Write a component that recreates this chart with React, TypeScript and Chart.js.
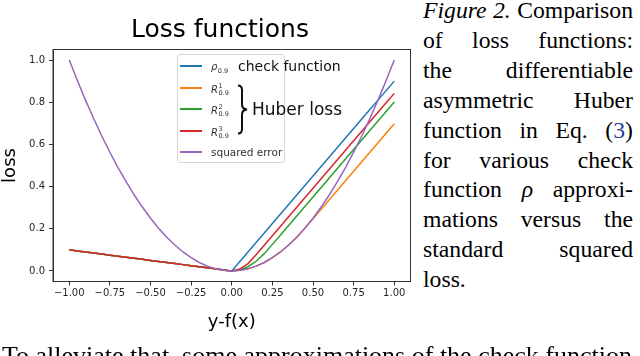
import React, { useEffect, useRef } from "react";
import { Chart, registerables } from "chart.js";

Chart.register(...registerables);

// ---- data ----
const xs = [
  -1.0, -0.95, -0.9, -0.85, -0.8, -0.75, -0.7, -0.65, -0.6, -0.55, -0.5, -0.45, -0.4, -0.35, -0.3, -0.25, -0.2, -0.15, -0.1, -0.05,
  0.0, 0.05, 0.1, 0.15, 0.2, 0.25, 0.3, 0.35, 0.4, 0.45, 0.5, 0.55, 0.6, 0.65, 0.7, 0.75, 0.8, 0.85, 0.9, 0.95, 1.0,
];
const checkFunction = [
  0.1, 0.095, 0.09, 0.085, 0.08, 0.075, 0.07, 0.065, 0.06, 0.055, 0.05, 0.045, 0.04, 0.035, 0.03, 0.025, 0.02, 0.015, 0.01, 0.005,
  0.0, 0.045, 0.09, 0.135, 0.18, 0.225, 0.27, 0.315, 0.36, 0.405, 0.45, 0.495, 0.54, 0.585, 0.63, 0.675, 0.72, 0.765, 0.81, 0.855, 0.9,
];
const huberR1 = [
  0.1, 0.095, 0.09, 0.085, 0.08, 0.075, 0.07, 0.065, 0.06, 0.055, 0.05, 0.045, 0.04, 0.035, 0.03, 0.025, 0.02, 0.015, 0.009, 0.003,
  0.0, 0.003, 0.01, 0.023, 0.04, 0.063, 0.09, 0.123, 0.16, 0.203, 0.248, 0.293, 0.338, 0.383, 0.428, 0.473, 0.518, 0.563, 0.608, 0.653, 0.698,
];
const huberR2 = [
  0.1, 0.095, 0.09, 0.085, 0.08, 0.075, 0.07, 0.065, 0.06, 0.055, 0.05, 0.045, 0.04, 0.035, 0.03, 0.025, 0.02, 0.015, 0.01, 0.004,
  0.0, 0.005, 0.02, 0.046, 0.082, 0.126, 0.171, 0.216, 0.261, 0.306, 0.351, 0.396, 0.441, 0.486, 0.531, 0.576, 0.621, 0.666, 0.711, 0.756, 0.801,
];
const huberR3 = [
  0.1, 0.095, 0.09, 0.085, 0.08, 0.075, 0.07, 0.065, 0.06, 0.055, 0.05, 0.045, 0.04, 0.035, 0.03, 0.025, 0.02, 0.015, 0.01, 0.005,
  0.0, 0.009, 0.035, 0.077, 0.122, 0.167, 0.212, 0.257, 0.302, 0.347, 0.392, 0.437, 0.482, 0.527, 0.572, 0.617, 0.662, 0.707, 0.752, 0.797, 0.842,
];
const squaredError = [
  1.0, 0.903, 0.81, 0.723, 0.64, 0.563, 0.49, 0.423, 0.36, 0.303, 0.25, 0.203, 0.16, 0.123, 0.09, 0.063, 0.04, 0.023, 0.01, 0.003,
  0.0, 0.003, 0.01, 0.023, 0.04, 0.063, 0.09, 0.123, 0.16, 0.203, 0.25, 0.303, 0.36, 0.423, 0.49, 0.563, 0.64, 0.723, 0.81, 0.903, 1.0,
];
const xTicks = [-1.0, -0.75, -0.5, -0.25, 0.0, 0.25, 0.5, 0.75, 1.0];
const yTicks = [0.0, 0.2, 0.4, 0.6, 0.8, 1.0];
const chartTitle = "Loss functions";
const xAxisLabel = "y-f(x)";
const yAxisLabel = "loss";

const BLUE = "#1f77b4";
const ORANGE = "#ff7f0e";
const GREEN = "#2ca02c";
const RED = "#d62728";
const PURPLE = "#9467bd";

const SANS = "'DejaVu Sans', sans-serif";
const SERIF = "'Liberation Serif', 'Times New Roman', serif";

const toPoints = (ys: number[]) => xs.map((x, i) => ({ x, y: ys[i] }));

const framePlugin = {
  id: "frameAndTitle",
  afterDraw(chart: any) {
    const { ctx, chartArea: a } = chart;
    ctx.save();
    ctx.strokeStyle = "#333";
    ctx.lineWidth = 1;
    ctx.strokeRect(a.left, a.top, a.right - a.left, a.bottom - a.top);
    ctx.fillStyle = "#000";
    ctx.font = `25px ${SANS}`;
    ctx.textAlign = "center";
    ctx.textBaseline = "middle";
    ctx.fillText(chartTitle, 220, 30);
    ctx.restore();
  },
};

function LossChart() {
  const ref = useRef<HTMLCanvasElement | null>(null);
  useEffect(() => {
    if (!ref.current) return;
    const fmtX = (v: number) => (v < 0 ? "\u2212" + Math.abs(v).toFixed(2) : v.toFixed(2));
    const chart = new Chart(ref.current, {
      type: "line",
      data: {
        datasets: [
          { label: "rho_0.9", data: toPoints(checkFunction), borderColor: BLUE, order: 4 },
          { label: "R1_0.9", data: toPoints(huberR1), borderColor: ORANGE, order: 3 },
          { label: "R2_0.9", data: toPoints(huberR2), borderColor: GREEN, order: 2 },
          { label: "R3_0.9", data: toPoints(huberR3), borderColor: RED, order: 1 },
          { label: "squared error", data: toPoints(squaredError), borderColor: PURPLE, order: 0 },
        ],
      },
      options: {
        animation: false,
        responsive: false,
        maintainAspectRatio: false,
        layout: { padding: { top: 49.5, left: 0, right: 9.5, bottom: 0 } },
        elements: {
          point: { radius: 0, hoverRadius: 0 },
          line: { borderWidth: 1.5, tension: 0, fill: false },
        },
        plugins: {
          legend: { display: false },
          tooltip: { enabled: false },
          title: { display: false },
        },
        scales: {
          x: {
            type: "linear",
            min: -1.1,
            max: 1.1,
            afterBuildTicks: (ax: any) => {
              ax.ticks = xTicks.map((v) => ({ value: v }));
            },
            afterFit: (ax: any) => {
              ax.height = 74.5;
            },
            ticks: {
              callback: (v: any) => fmtX(Number(v)),
              font: { family: SANS, size: 10 },
              color: "#262626",
              padding: 2,
              maxRotation: 0,
              autoSkip: false,
            },
            grid: { drawOnChartArea: false, drawTicks: true, tickLength: 4, color: "#333" },
            border: { display: true, color: "#333" },
            title: {
              display: true,
              text: xAxisLabel,
              font: { family: SANS, size: 18 },
              color: "#000",
              padding: { top: 0, bottom: 23 },
            },
          },
          y: {
            type: "linear",
            min: -0.05,
            max: 1.05,
            afterBuildTicks: (ax: any) => {
              ax.ticks = yTicks.map((v) => ({ value: v }));
            },
            afterFit: (ax: any) => {
              ax.width = 53;
            },
            ticks: {
              callback: (v: any) => Number(v).toFixed(1),
              font: { family: SANS, size: 10 },
              color: "#262626",
              padding: 4,
              autoSkip: false,
            },
            grid: { drawOnChartArea: false, drawTicks: true, tickLength: 4, color: "#333" },
            border: { display: true, color: "#333" },
            title: {
              display: true,
              text: yAxisLabel,
              font: { family: SANS, size: 18 },
              color: "#000",
              padding: { top: 0, bottom: 0 },
            },
          },
        },
      },
      plugins: [framePlugin],
    } as any);
    return () => chart.destroy();
  }, []);
  return (
    <canvas
      ref={ref}
      width={420}
      height={356}
      style={{ position: "absolute", left: 0, top: 0, width: 420, height: 356 }}
    />
  );
}

const abs = (left: number, cy: number): React.CSSProperties => ({
  position: "absolute",
  left,
  top: cy,
  transform: "translateY(-50%)",
  lineHeight: 1,
  whiteSpace: "nowrap",
});

function SubSup({ base, sup }: { base: string; sup?: string }) {
  return (
    <span style={{ display: "inline-flex", alignItems: "center", color: "#333", fontFamily: SANS }}>
      <span style={{ fontStyle: "italic", fontSize: 10 }}>{base}</span>
      <span
        style={{
          display: "inline-flex",
          flexDirection: "column",
          fontSize: 6.5,
          lineHeight: "7px",
          marginLeft: 0.5,
          marginTop: sup ? 0 : 8,
        }}
      >
        {sup ? <span>{sup}</span> : null}
        <span>0.9</span>
      </span>
    </span>
  );
}

function Legend() {
  const rows = [
    { color: BLUE, y: 66 },
    { color: ORANGE, y: 87.5 },
    { color: GREEN, y: 109 },
    { color: RED, y: 130.5 },
    { color: PURPLE, y: 152 },
  ];
  return (
    <>
      <div
        style={{
          position: "absolute",
          left: 177,
          top: 54,
          width: 106,
          height: 107,
          border: "1px solid #d6d6d6",
          borderRadius: 3,
          background: "rgba(255,255,255,0.8)",
        }}
      />
      {rows.map((r, i) => (
        <div
          key={i}
          style={{ position: "absolute", left: 180, top: r.y - 1, width: 22, height: 2, background: r.color }}
        />
      ))}
      <div style={abs(211, 66)}>
        <SubSup base={"\u03c1"} />
      </div>
      <div style={abs(211, 87.5)}>
        <SubSup base="R" sup="1" />
      </div>
      <div style={abs(211, 109)}>
        <SubSup base="R" sup="2" />
      </div>
      <div style={abs(211, 130.5)}>
        <SubSup base="R" sup="3" />
      </div>
      <div style={{ ...abs(211, 152), fontFamily: SANS, fontSize: 10.5, color: "#333" }}>squared error</div>
      <div style={{ ...abs(238, 66), fontFamily: SANS, fontSize: 14, color: "#111" }}>check function</div>
      <div style={{ ...abs(252, 109), fontFamily: SANS, fontSize: 17, color: "#111" }}>Huber loss</div>
      <svg
        style={{ position: "absolute", left: 236, top: 84 }}
        width={14}
        height={51}
        viewBox="0 0 14 51"
      >
        <path
          d="M 2 1.5 Q 6 1.5 6 6 L 6 20.5 Q 6 25 11 25.5 Q 6 26 6 30.5 L 6 45 Q 6 49.5 2 49.5"
          fill="none"
          stroke="#111"
          strokeWidth={2}
        />
      </svg>
    </>
  );
}

const captionLines: React.ReactNode[] = [
  <>
    <i>Figure 2.</i> Comparison
  </>,
  <>of loss functions:</>,
  <>the differentiable</>,
  <>asymmetric Huber</>,
  <>
    function in Eq. (<span style={{ color: "#2b3a98" }}>3</span>)
  </>,
  <>for various check</>,
  <>
    function <i>{"\u03c1"}</i> approxi-
  </>,
  <>mations versus the</>,
  <>standard squared</>,
];

function Caption() {
  return (
    <div
      style={{
        position: "absolute",
        left: 423,
        top: -4,
        width: 210,
        fontFamily: SERIF,
        fontSize: 23.7,
        lineHeight: "29.9px",
        color: "#000",
      }}
    >
      {captionLines.map((l, i) => (
        <div key={i} style={{ textAlign: "justify", textAlignLast: "justify", whiteSpace: "nowrap" }}>
          {l}
        </div>
      ))}
      <div style={{ textAlign: "left" }}>loss.</div>
    </div>
  );
}

export default function App() {
  return (
    <div
      style={{
        position: "fixed",
        left: 0,
        top: 0,
        width: 640,
        height: 356,
        overflow: "hidden",
        background: "#fff",
      }}
    >
      <LossChart />
      <Legend />
      <Caption />
      <div
        style={{
          position: "absolute",
          left: 2,
          top: 341,
          fontFamily: SERIF,
          fontSize: 26,
          lineHeight: "30px",
          whiteSpace: "nowrap",
          color: "#000",
        }}
      >
        To alleviate that, some approximations of the check function
      </div>
    </div>
  );
}
